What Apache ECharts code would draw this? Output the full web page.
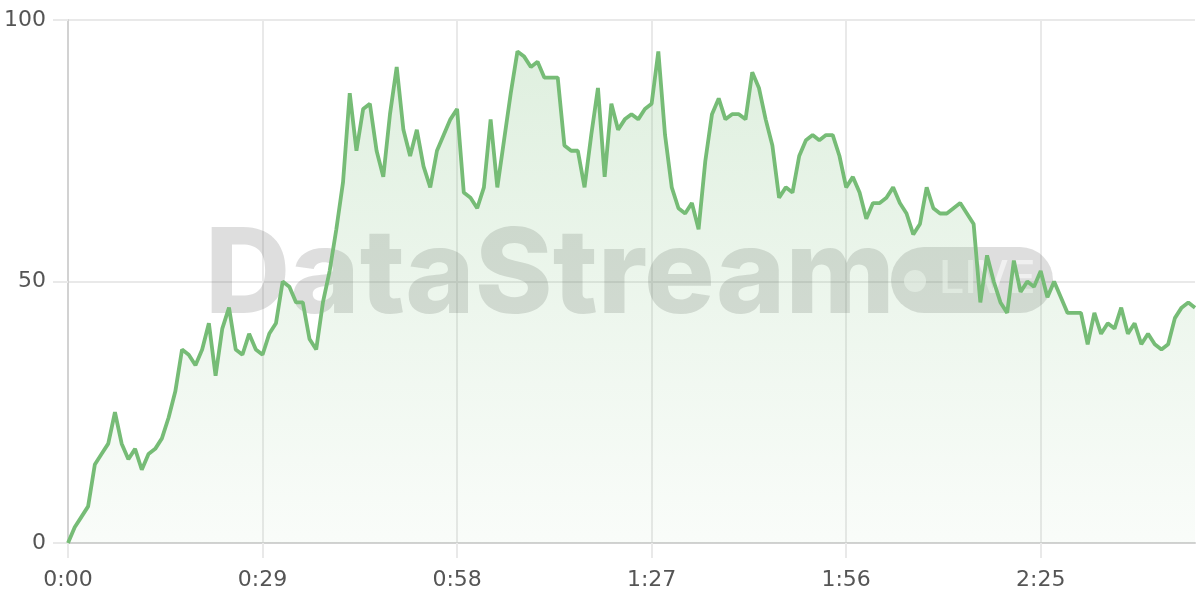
<!DOCTYPE html>
<html>
<head>
<meta charset="utf-8">
<script src="https://cdn.jsdelivr.net/npm/echarts@6/dist/echarts.min.js"></script>
<style>
html,body{margin:0;padding:0;background:#fff;}
#chart{width:1200px;height:600px;}
</style>
</head>
<body>
<div id="chart"></div>
<script>
// one value per second, 0:00 .. 2:48
const values = [
  0, 3, 5, 7, 15, 17, 19, 25, 19, 16, 18, 14, 17, 18, 20, 24, 29, 37, 36, 34,
  37, 42, 32, 41, 45, 37, 36, 40, 37, 36, 40, 42, 50, 49, 46, 46, 39, 37, 46, 52,
  60, 69, 86, 75, 83, 84, 75, 70, 82, 91, 79, 74, 79, 72, 68, 75, 78, 81, 83, 67,
  66, 64, 68, 81, 68, 77, 86, 94, 93, 91, 92, 89, 89, 89, 76, 75, 75, 68, 78, 87,
  70, 84, 79, 81, 82, 81, 83, 84, 94, 78, 68, 64, 63, 65, 60, 73, 82, 85, 81, 82,
  82, 81, 90, 87, 81, 76, 66, 68, 67, 74, 77, 78, 77, 78, 78, 74, 68, 70, 67, 62,
  65, 65, 66, 68, 65, 63, 59, 61, 68, 64, 63, 63, 64, 65, 63, 61, 46, 55, 50, 46,
  44, 54, 48, 50, 49, 52, 47, 50, 47, 44, 44, 44, 38, 44, 40, 42, 41, 45, 40, 42,
  38, 40, 38, 37, 38, 43, 45, 46, 45
];
const xTickLabels = ['0:00', '0:29', '0:58', '1:27', '1:56', '2:25'];
const yTicks = [0, 50, 100];

const categories = values.map((v, i) => Math.floor(i / 60) + ':' + String(i % 60).padStart(2, '0'));

const chart = echarts.init(document.getElementById('chart'), null, {renderer: 'canvas'});
const lineColor = '#76bc76';
const gridCol = '#e9e9e9';
const axisCol = '#d2d2d2';
const labelFont = '"DejaVu Sans", sans-serif';

chart.setOption({
  animation: false,
  backgroundColor: '#ffffff',
  grid: {left: 68, right: 5, top: 20, bottom: 57, containLabel: false},
  graphic: [
    {
      type: 'text', z: 1, left: 205, top: 219,
      style: {text: 'DataStream', font: '800 118px Inter, "DejaVu Sans", sans-serif', fill: 'rgba(90,90,90,0.2)'}
    },
    {
      type: 'rect', z: 1, shape: {x: 891, y: 247, width: 162, height: 66, r: 33},
      style: {fill: 'rgba(90,90,90,0.2)'}
    },
    {
      type: 'circle', z: 1, shape: {cx: 915, cy: 281, r: 11},
      style: {fill: 'rgba(255,255,255,0.55)'}
    },
    {
      type: 'text', z: 1, left: 939, top: 257,
      style: {text: 'LIVE', font: '500 45px Inter, "DejaVu Sans", sans-serif', fill: 'rgba(255,255,255,0.55)'}
    }
  ],
  xAxis: {
    type: 'category',
    data: categories,
    boundaryGap: false,
    axisLine: {show: true, lineStyle: {color: axisCol, width: 2}},
    axisTick: {show: true, interval: 28, length: 15, lineStyle: {color: gridCol, width: 2}},
    splitLine: {show: true, interval: 28, lineStyle: {color: gridCol, width: 2}},
    axisLabel: {
      interval: (i, v) => xTickLabels.indexOf(v) >= 0,
      color: '#555', fontSize: 22, fontFamily: labelFont, margin: 26
    }
  },
  yAxis: {
    type: 'value',
    min: yTicks[0], max: yTicks[yTicks.length - 1], interval: 50,
    axisLine: {show: true, lineStyle: {color: axisCol, width: 2}},
    axisTick: {show: true, length: 15, lineStyle: {color: gridCol, width: 2}},
    splitLine: {show: true, lineStyle: {color: gridCol, width: 2}},
    axisLabel: {color: '#555', fontSize: 22, fontFamily: labelFont, margin: 22}
  },
  series: [{
    type: 'line',
    data: values,
    z: 3,
    showSymbol: false,
    symbol: 'none',
    lineStyle: {color: lineColor, width: 3.8},
    itemStyle: {color: lineColor},
    areaStyle: {
      color: new echarts.graphic.LinearGradient(0, 0, 0, 1, [
        {offset: 0, color: 'rgba(118,188,118,0.33)'},
        {offset: 1, color: 'rgba(118,188,118,0.06)'}
      ])
    }
  }]
});
</script>
</body>
</html>
